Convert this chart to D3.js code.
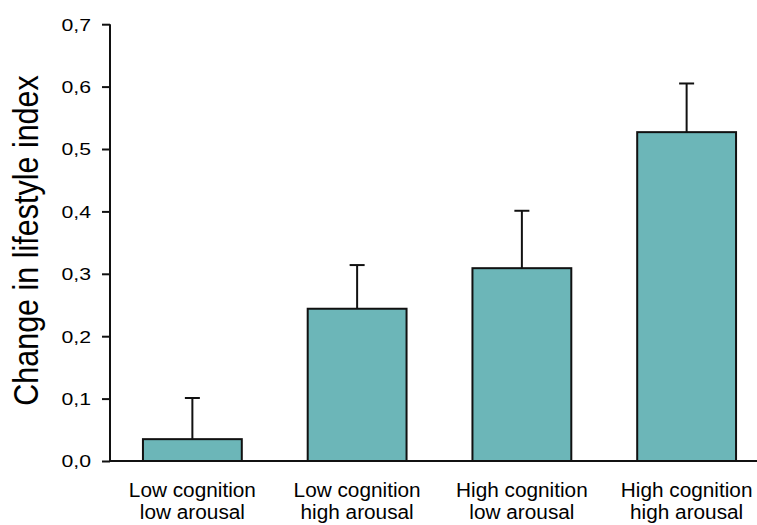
<!DOCTYPE html>
<html>
<head>
<meta charset="utf-8">
<script src="https://cdn.jsdelivr.net/npm/d3@7"></script>
<style>
  html, body { margin: 0; padding: 0; background: #ffffff; }
  svg { display: block; }
  text { font-family: "Liberation Sans", Arial, Helvetica, sans-serif; fill: #000; }
</style>
</head>
<body>
<svg id="chart" width="757" height="525"></svg>
<script>
// Groups: cognition × arousal
const categories = [
  ["Low cognition", "low arousal"],
  ["Low cognition", "high arousal"],
  ["High cognition", "low arousal"],
  ["High cognition", "high arousal"]
];
// Mean change in lifestyle index per group
const means = [0.035, 0.244, 0.309, 0.527];
// Upper end of the error bar per group
const upper = [0.101, 0.314, 0.401, 0.605];
// Y-axis ticks and their labels (decimal comma)
const yTicks = [0, 0.1, 0.2, 0.3, 0.4, 0.5, 0.6, 0.7];
const yTickLabels = ["0,0", "0,1", "0,2", "0,3", "0,4", "0,5", "0,6", "0,7"];
const yTitle = "Change in lifestyle index";

const svg = d3.select("#chart");
const plotLeft = 110, plotBottom = 461, plotTop = 24.2, plotRight = 769;

const x = d3.scaleBand()
  .domain(d3.range(categories.length))
  .range([plotLeft, plotRight])
  .paddingInner(0.4)
  .paddingOuter(0.2);

const y = d3.scaleLinear().domain([0, 0.7]).range([plotBottom, plotTop]);

// Bars
svg.append("g").selectAll("rect")
  .data(means)
  .join("rect")
  .attr("x", (d, i) => x(i))
  .attr("y", d => y(d))
  .attr("width", x.bandwidth())
  .attr("height", d => y(0) - y(d))
  .attr("fill", "#6cb6b8")
  .attr("stroke", "#111")
  .attr("stroke-width", 2);

// Error bars (upper whisker only)
const err = svg.append("g").attr("stroke", "#111").attr("stroke-width", 2);
err.selectAll("line.v")
  .data(upper)
  .join("line")
  .attr("class", "v")
  .attr("x1", (d, i) => x(i) + x.bandwidth() / 2)
  .attr("x2", (d, i) => x(i) + x.bandwidth() / 2)
  .attr("y1", (d, i) => y(means[i]))
  .attr("y2", d => y(d));
err.selectAll("line.cap")
  .data(upper)
  .join("line")
  .attr("class", "cap")
  .attr("x1", (d, i) => x(i) + x.bandwidth() / 2 - 7.5)
  .attr("x2", (d, i) => x(i) + x.bandwidth() / 2 + 7.5)
  .attr("y1", d => y(d))
  .attr("y2", d => y(d));

// Y axis
const yAxis = d3.axisLeft(y)
  .tickValues(yTicks)
  .tickSize(8)
  .tickSizeOuter(0)
  .tickFormat((d, i) => yTickLabels[i]);
const gy = svg.append("g").attr("transform", `translate(${plotLeft},0)`).call(yAxis);
gy.attr("font-size", null);
gy.select(".domain").attr("stroke", "#111").attr("stroke-width", 2)
  .attr("d", `M0,${plotTop}V${plotBottom}`);
gy.selectAll(".tick line").attr("stroke", "#111").attr("stroke-width", 2);
gy.selectAll(".tick text")
  .attr("x", null).attr("dy", null)
  .attr("font-size", 17)
  .attr("text-anchor", "end")
  .attr("transform", "translate(-19,5.8) scale(1.25,1)");

// X axis baseline
const xAxis = d3.axisBottom(x).tickSize(0).tickFormat("");
const gx = svg.append("g").attr("transform", `translate(0,${plotBottom})`).call(xAxis);
gx.select(".domain").attr("stroke", "#111").attr("stroke-width", 2)
  .attr("d", `M${plotLeft},0H${plotRight}`);
gx.selectAll(".tick text").remove();

// Category labels (two lines each)
const labels = svg.append("g").selectAll("g")
  .data(categories)
  .join("g")
  .attr("transform", (d, i) => `translate(${x(i) + x.bandwidth() / 2},0) scale(1.05,1)`);
labels.each(function (d) {
  const g = d3.select(this);
  d.forEach((line, k) => {
    g.append("text")
      .attr("x", 0)
      .attr("y", 497.3 + k * 22)
      .attr("text-anchor", "middle")
      .attr("font-size", 19.8)
      .text(line);
  });
});

// Y-axis title
svg.append("text")
  .attr("transform", "translate(38,240.5) rotate(-90) scale(1,1.12)")
  .attr("text-anchor", "middle")
  .attr("font-size", 30.5)
  .text(yTitle);
</script>
</body>
</html>
